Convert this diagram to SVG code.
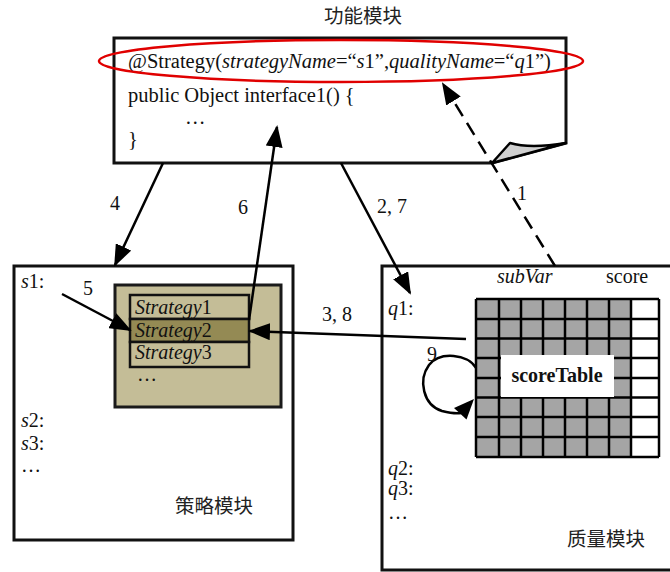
<svg xmlns="http://www.w3.org/2000/svg" width="670" height="572" viewBox="0 0 670 572">
<defs>
<style>
.t{font-family:"Liberation Serif","Times New Roman",serif;font-size:20px;fill:#111}
.big{font-size:20.5px}
.i{font-style:italic}
.zh{font-family:"Noto Sans CJK SC","Noto Sans CJK JP",sans-serif;font-size:19.5px;fill:#222}
.box{fill:#fff;stroke:#111;stroke-width:3}
.ln{fill:none;stroke:#000;stroke-width:2.5}
.gl{stroke:#000;stroke-width:2.5}
</style>
<marker id="ah" viewBox="0 0 22 17" refX="20" refY="8.5" markerWidth="22" markerHeight="17" markerUnits="userSpaceOnUse" orient="auto">
<path d="M0,0 L22,8.5 L0,17 Z" fill="#000"/>
</marker>
</defs>
<rect width="670" height="572" fill="#fff"/>

<g id="func-module">
<text class="zh" x="363" y="23" text-anchor="middle">功能模块</text>
<path class="box" d="M114,38 L566,38 L566,143 L492,163 L114,163 Z"/>
<path d="M492,163 L510,143 Q530,149 566,143 Z" fill="#d0d0d0" stroke="#000" stroke-width="2.5" stroke-linejoin="round"/>
<text class="t big" x="128" y="67.5">@Strategy(<tspan class="i">strategyName</tspan>=“<tspan class="i">s</tspan>1”,<tspan class="i">qualityName</tspan>=“<tspan class="i">q</tspan>1”)</text>
<text class="t big" x="128" y="102">public Object interface1() {</text>
<text class="t big" x="185" y="124">…</text>
<text class="t big" x="128" y="146">}</text>
<ellipse cx="341" cy="61" rx="242" ry="21" fill="none" stroke="#e00000" stroke-width="2.5"/>
</g>

<g id="strategy-module">
<rect class="box" x="14" y="266" width="279" height="274"/>
<text class="t" x="21" y="288"><tspan class="i">s</tspan>1:</text>
<text class="t" x="21" y="427"><tspan class="i">s</tspan>2:</text>
<text class="t" x="21" y="450"><tspan class="i">s</tspan>3:</text>
<text class="t" x="21" y="472">…</text>
<text class="zh" x="214" y="513" text-anchor="middle">策略模块</text>
<rect x="115" y="285" width="166" height="122" fill="#c4bd97" stroke="#1a1a1a" stroke-width="3"/>
<rect x="130" y="295" width="119" height="24" fill="#c4bd97" stroke="#111" stroke-width="2.5"/>
<rect x="130" y="319" width="119" height="23" fill="#948a54" stroke="#111" stroke-width="2.5"/>
<rect x="130" y="342" width="119" height="25" fill="#c4bd97" stroke="#111" stroke-width="2.5"/>
<text class="t" x="135" y="314"><tspan class="i">Strategy</tspan>1</text>
<text class="t" x="135" y="336.5"><tspan class="i">Strategy</tspan>2</text>
<text class="t" x="135" y="359"><tspan class="i">Strategy</tspan>3</text>
<text class="t" x="137" y="381">…</text>
</g>

<g id="quality-module">
<rect class="box" x="382" y="266" width="300" height="304"/>
<text class="t i" x="497" y="283">subVar</text>
<text class="t" x="606" y="283">score</text>
<text class="t" x="388" y="315"><tspan class="i">q</tspan>1:</text>
<text class="t" x="388" y="475"><tspan class="i">q</tspan>2:</text>
<text class="t" x="388" y="495"><tspan class="i">q</tspan>3:</text>
<text class="t" x="388" y="519">…</text>
<text class="zh" x="606" y="546" text-anchor="middle">质量模块</text>
</g>

<g id="score-table">
<rect x="476" y="299" width="155" height="158" fill="#a5a5a5"/>
<rect x="631" y="299" width="28" height="158" fill="#fff"/>
<g class="gl">
<line x1="476" y1="299" x2="476" y2="457"/>
<line x1="499" y1="299" x2="499" y2="457"/>
<line x1="521" y1="299" x2="521" y2="457"/>
<line x1="543" y1="299" x2="543" y2="457"/>
<line x1="565" y1="299" x2="565" y2="457"/>
<line x1="587" y1="299" x2="587" y2="457"/>
<line x1="609" y1="299" x2="609" y2="457"/>
<line x1="631" y1="299" x2="631" y2="457"/>
<line x1="659" y1="299" x2="659" y2="457"/>
<line x1="476" y1="299" x2="659" y2="299"/>
<line x1="476" y1="319" x2="659" y2="319"/>
<line x1="476" y1="338.5" x2="659" y2="338.5"/>
<line x1="476" y1="358" x2="659" y2="358"/>
<line x1="476" y1="378" x2="659" y2="378"/>
<line x1="476" y1="397.5" x2="659" y2="397.5"/>
<line x1="476" y1="417" x2="659" y2="417"/>
<line x1="476" y1="437" x2="659" y2="437"/>
<line x1="476" y1="457" x2="659" y2="457"/>
</g>
<rect x="501" y="355" width="113" height="42" fill="#fff"/>
<text class="t" x="557" y="382" text-anchor="middle" font-weight="bold">scoreTable</text>
</g>

<g id="connectors">
<line class="ln" x1="163" y1="163" x2="115" y2="265" marker-end="url(#ah)"/>
<line class="ln" x1="341" y1="163" x2="410" y2="293" marker-end="url(#ah)"/>
<line class="ln" x1="555" y1="266" x2="443" y2="84" stroke-dasharray="14,8" marker-end="url(#ah)"/>
<line class="ln" x1="249" y1="320" x2="277" y2="127" marker-end="url(#ah)"/>
<line class="ln" x1="62" y1="294" x2="130" y2="330" marker-end="url(#ah)"/>
<line class="ln" x1="466" y1="339" x2="250" y2="331" marker-end="url(#ah)"/>
<path class="ln" d="M476,368 C468,354 440,351 429,365 C418,380 423,405 442,411 C450,413 455,414 461,413"/>
<polygon points="474,399 454,408 466.5,419.5" fill="#000"/>
<text class="t" x="110" y="210" font-size="19">4</text>
<text class="t" x="238" y="214" font-size="19">6</text>
<text class="t" x="377" y="213" font-size="19">2, 7</text>
<text class="t" x="517" y="200" font-size="19">1</text>
<text class="t" x="83" y="295" font-size="19">5</text>
<text class="t" x="322" y="321" font-size="19">3, 8</text>
<text class="t" x="427" y="361" font-size="19">9</text>
</g>
</svg>
